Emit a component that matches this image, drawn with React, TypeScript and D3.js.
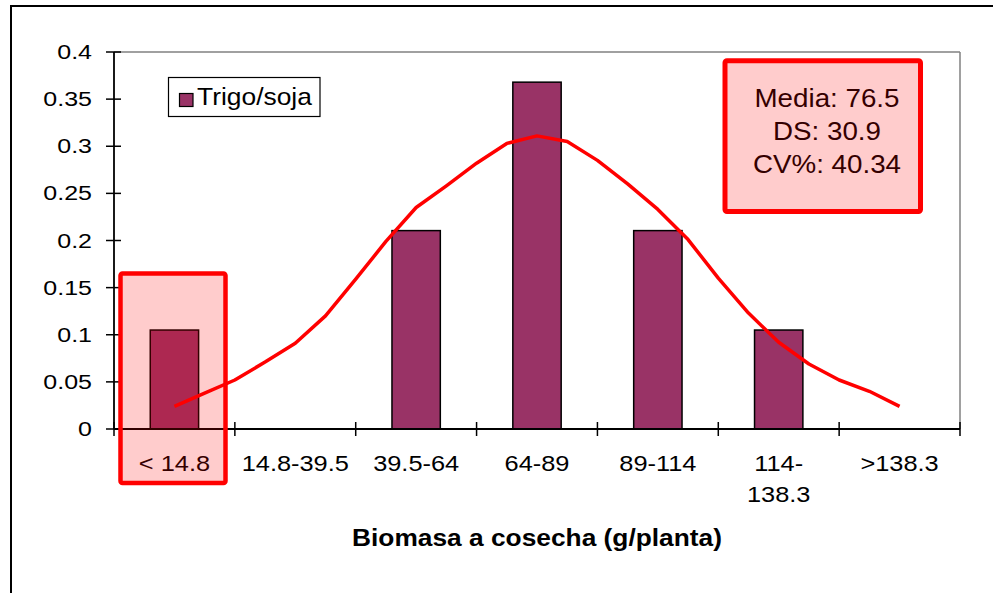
import React from "react";
import * as d3 from "d3";

// ---- data ----
const categories = ["< 14.8", "14.8-39.5", "39.5-64", "64-89", "89-114", "114-138.3", ">138.3"];
const frequencies = [0.105, 0, 0.2105, 0.368, 0.2105, 0.105, 0];
const wrappedLabels: Record<string, string[]> = { "114-138.3": ["114-", "138.3"] };
// normal curve: position in category units (0 = first category centre)
const curvePos = [0, 0.25, 0.5, 0.75, 1, 1.25, 1.5, 1.75, 2, 2.25, 2.5, 2.75, 3, 3.25, 3.5, 3.75, 4, 4.25, 4.5, 4.75, 5, 5.25, 5.5, 5.75, 6];
const curveVal = [0.024, 0.038, 0.052, 0.071, 0.091, 0.12, 0.159, 0.199, 0.235, 0.258, 0.282, 0.303, 0.311, 0.305, 0.285, 0.26, 0.233, 0.201, 0.16, 0.123, 0.092, 0.069, 0.052, 0.04, 0.024];
const yTicks = [0, 0.05, 0.1, 0.15, 0.2, 0.25, 0.3, 0.35, 0.4];
const seriesName = "Trigo/soja";
const statsLines = ["Media: 76.5", "DS: 30.9", "CV%: 40.34"];
const xTitle = "Biomasa a cosecha (g/planta)";

const FONT = "'Liberation Sans', Arial, sans-serif";

export default function App() {
  const W = 993, H = 593;
  const left = 114, right = 960, top = 52, bottom = 429;
  const x = d3.scaleBand<string>().domain(categories).range([left, right]).paddingInner(0).paddingOuter(0);
  const bw = x.bandwidth();
  const xPos = d3.scaleLinear().domain([-0.5, categories.length - 0.5]).range([left, right]);
  const y = d3.scaleLinear().domain([0, 0.4]).range([bottom, top]);
  const line = d3.line<number>().x((_, i) => xPos(curvePos[i])).y((d) => y(d));
  const fmt = (v: number) => (v === 0 ? "0" : String(+v.toFixed(2)));

  const boundaries = d3.range(categories.length + 1).map((i) => left + i * bw);

  return (
    <svg width={W} height={H} style={{ position: "absolute", left: 0, top: 0, background: "#fff" }} fontFamily={FONT}>
      <rect x={0} y={0} width={W} height={H} fill="#fff" />
      {/* outer frame */}
      <rect x={11} y={6} width={1100} height={700} fill="none" stroke="#000" strokeWidth={2} />
      {/* plot area border */}
      <line x1={left} x2={right} y1={top} y2={top} stroke="#808080" strokeWidth={1.5} />
      <line x1={right} x2={right} y1={top} y2={bottom} stroke="#808080" strokeWidth={1.5} />

      {/* bars */}
      {categories.map((c, i) =>
        frequencies[i] > 0 ? (
          <rect key={c} x={(x(c) as number) + bw * 0.3} width={bw * 0.4} y={y(frequencies[i])} height={bottom - y(frequencies[i])}
            fill="#993366" stroke="#000" strokeWidth={1.5} />
        ) : null
      )}

      {/* curve */}
      <path d={line(curveVal) || ""} fill="none" stroke="#ff0000" strokeWidth={3.5} strokeLinejoin="round" strokeLinecap="butt" />

      {/* y axis */}
      <line x1={left} x2={left} y1={top} y2={bottom} stroke="#000" strokeWidth={1.8} />
      {yTicks.map((t) => (
        <g key={t}>
          <line x1={left - 8} x2={left + 7} y1={y(t)} y2={y(t)} stroke="#000" strokeWidth={1.5} />
          <g transform={`translate(${left - 22},${y(t) + 7}) scale(1.25,1)`}>
            <text textAnchor="end" fontSize={20} fill="#000">{fmt(t)}</text>
          </g>
        </g>
      ))}

      {/* x axis */}
      <line x1={left} x2={right} y1={bottom} y2={bottom} stroke="#000" strokeWidth={1.8} />
      {boundaries.map((b, i) => (
        <line key={i} x1={b} x2={b} y1={bottom - 7} y2={bottom + 7} stroke="#000" strokeWidth={1.5} />
      ))}
      {categories.map((c) => {
        const lines = wrappedLabels[c] || [c];
        const cx = (x(c) as number) + bw / 2;
        return (
          <g key={c} transform={`translate(${cx},470.7) scale(1.18,1)`}>
            {lines.map((l, j) => (
              <text key={j} y={j * 31} textAnchor="middle" fontSize={21.5} fill="#000">{l}</text>
            ))}
          </g>
        );
      })}

      {/* x title */}
      <g transform={`translate(${(left + right) / 2},546) scale(1.12,1)`}>
        <text textAnchor="middle" fontSize={23.5} fontWeight="bold" fill="#000">{xTitle}</text>
      </g>

      {/* legend */}
      <rect x={168.5} y={77.5} width={151.5} height={39} fill="#fff" stroke="#000" strokeWidth={1.2} />
      <rect x={179.5} y={93.5} width={13.5} height={13} fill="#993366" stroke="#000" strokeWidth={1.2} />
      <g transform="translate(197,105) scale(1.1,1)">
        <text fontSize={24} fill="#000">{seriesName}</text>
      </g>

      {/* stats text */}
      {statsLines.map((s, i) => (
        <g key={s} transform={`translate(827,${106.7 + i * 33}) scale(1.11,1)`}>
          <text textAnchor="middle" fontSize={25} fill="#000">{s}</text>
        </g>
      ))}

      {/* highlight boxes */}
      <rect x={120.5} y={273.5} width={105} height={209.5} rx={2} fill="rgba(255,0,0,0.2)" stroke="#ff0000" strokeWidth={4.5} />
      <rect x={725} y={60.8} width={195.5} height={150.7} rx={2} fill="rgba(255,0,0,0.2)" stroke="#ff0000" strokeWidth={5} />
    </svg>
  );
}
